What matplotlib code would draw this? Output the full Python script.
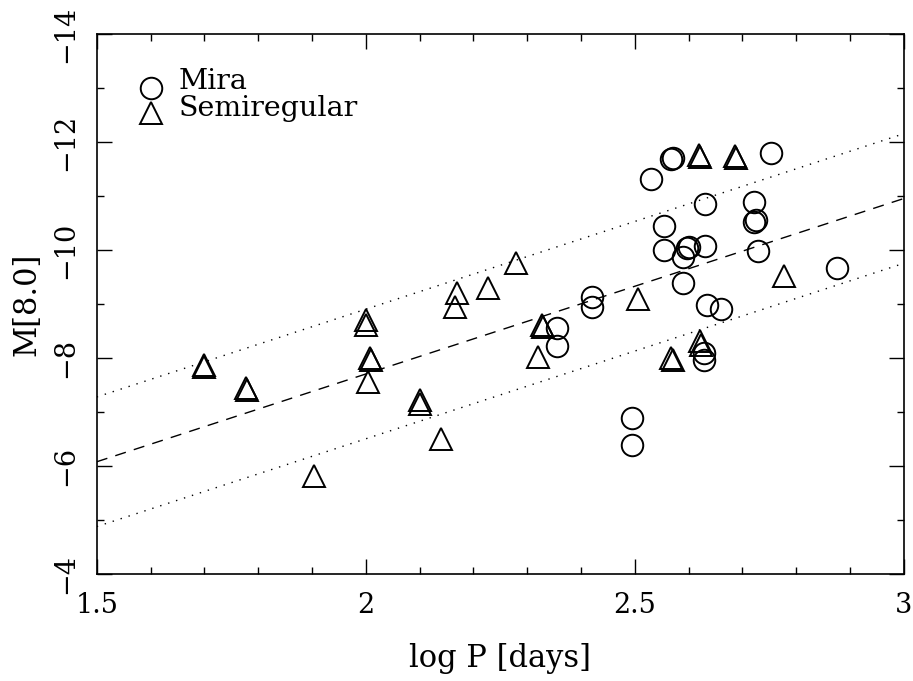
import numpy as np
import matplotlib
matplotlib.use("Agg")
import matplotlib.pyplot as plt
from matplotlib.ticker import MultipleLocator

plt.rcParams['font.family'] = ['DejaVu Serif']
plt.rcParams['axes.unicode_minus'] = True

# Mira variables: log P, M[8.0]
mira_logp = [2.568, 2.570, 2.530, 2.753, 2.631, 2.722, 2.726, 2.722, 2.555, 2.555,
             2.597, 2.600, 2.631, 2.590, 2.728, 2.590, 2.634, 2.660, 2.876, 2.421,
             2.421, 2.356, 2.356, 2.495, 2.495, 2.629, 2.629]
mira_m8 = [-11.69, -11.70, -11.31, -11.79, -10.85, -10.89, -10.56, -10.52, -10.45, -10.01,
           -10.04, -10.06, -10.07, -9.87, -9.98, -9.39, -8.98, -8.91, -9.66, -9.13,
           -8.94, -8.55, -8.22, -6.89, -6.39, -8.09, -7.96]

# Semiregular variables: log P, M[8.0]
sr_logp = [1.699, 1.700, 1.778, 1.779, 1.904, 2.000, 2.000, 2.008, 2.009, 2.004,
           2.101, 2.101, 2.140, 2.170, 2.166, 2.228, 2.279, 2.328, 2.330, 2.320,
           2.506, 2.568, 2.570, 2.620, 2.621, 2.687, 2.688, 2.622, 2.623, 2.778]
sr_m8 = [-7.87, -7.83, -7.44, -7.40, -5.81, -8.70, -8.62, -8.00, -7.96, -7.56,
         -7.22, -7.15, -6.50, -9.20, -8.94, -9.30, -9.76, -8.61, -8.57, -8.02,
         -9.09, -8.00, -7.97, -11.76, -11.72, -11.74, -11.71, -8.31, -8.24, -9.52]

# Fitted P-L relation and +/- scatter
fit_x = np.array([1.5, 3.0])
fit_intercept = -6.08   # M at log P = 1.5
fit_slope = -3.25
fit_offset = 1.2

fig = plt.figure(figsize=(9.13, 6.81), dpi=100)
ax = fig.add_axes([0.106, 0.157, 0.884, 0.793])

fit_y = fit_intercept + fit_slope * (fit_x - 1.5)
ax.plot(fit_x, fit_y, color='black', lw=1.0, ls=(0, (8, 6)))
ax.plot(fit_x, fit_y - fit_offset, color='black', lw=1.0, ls=(0, (1, 5)))
ax.plot(fit_x, fit_y + fit_offset, color='black', lw=1.0, ls=(0, (1, 5)))

ax.plot(mira_logp, mira_m8, ls='none', marker='o', ms=15.5, mfc='none',
        mec='black', mew=1.4)
ax.plot(sr_logp, sr_m8, ls='none', marker='^', ms=15.5, mfc='none',
        mec='black', mew=1.4)

# legend keys
ax.plot([0.0673], [0.900], transform=ax.transAxes, ls='none', marker='o', ms=15.5,
        mfc='none', mec='black', mew=1.4, clip_on=False)
ax.plot([0.0673], [0.854], transform=ax.transAxes, ls='none', marker='^', ms=15.5,
        mfc='none', mec='black', mew=1.4, clip_on=False)
ax.text(0.102, 0.898, 'Mira', transform=ax.transAxes, fontsize=20.5, va='baseline')
ax.text(0.102, 0.848, 'Semiregular', transform=ax.transAxes, fontsize=20.5, va='baseline')

ax.set_xlim(1.5, 3.0)
ax.set_ylim(-4, -14)
ax.xaxis.set_major_locator(MultipleLocator(0.5))
ax.xaxis.set_minor_locator(MultipleLocator(0.1))
ax.yaxis.set_major_locator(MultipleLocator(2))
ax.yaxis.set_minor_locator(MultipleLocator(1))
ax.set_xticks([1.5, 2.0, 2.5, 3.0])
ax.set_xticklabels(['1.5', '2', '2.5', '3'])

ax.tick_params(which='both', direction='in', top=True, right=True, width=1.0,
               labelsize=19.5, pad=13)
ax.tick_params(which='major', length=11)
ax.tick_params(which='minor', length=5)
for lbl in ax.get_yticklabels():
    lbl.set_rotation(90)
    lbl.set_va('center')
for s in ax.spines.values():
    s.set_linewidth(1.2)

ax.set_xlabel('log P [days]', fontsize=22, labelpad=17)
ax.set_ylabel('M[8.0]', fontsize=22, labelpad=7)

fig.savefig('out.png', dpi=100)
